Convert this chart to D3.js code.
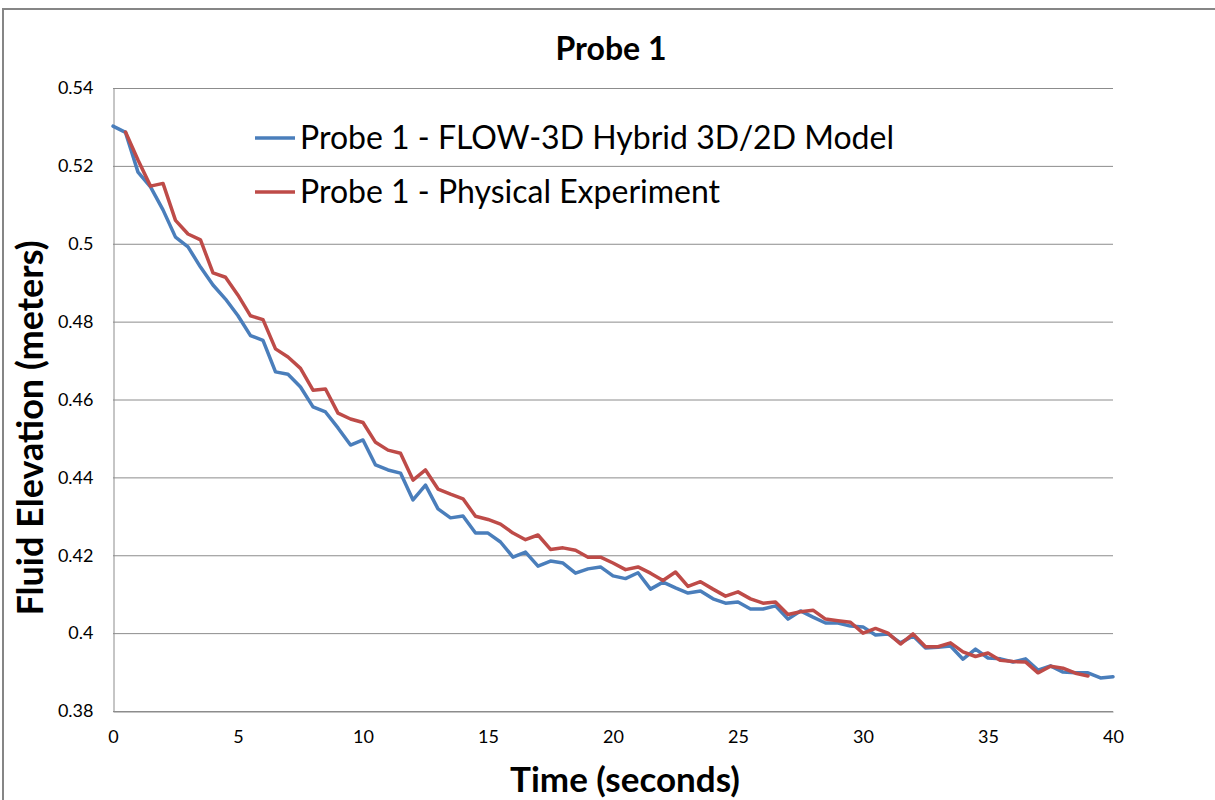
<!DOCTYPE html>
<html>
<head>
<meta charset="utf-8">
<script src="https://cdn.jsdelivr.net/npm/d3@7.9.0/dist/d3.min.js"></script>
<style>
  body { margin: 0; background: #fff; }
  svg { display: block; font-family: Lato, "Open Sans", sans-serif; }
</style>
</head>
<body>
<svg id="chart" width="1215" height="800"></svg>
<script>
// series values (0.5 s steps)
const modelTimes = d3.range(0, 40.001, 0.5);
const modelValues = [
  0.5302, 0.5286, 0.5184, 0.5146, 0.5087, 0.5017, 0.4992, 0.4940, 0.4894, 0.4858,
  0.4815, 0.4764, 0.4752, 0.4671, 0.4665, 0.4632, 0.4581, 0.4568, 0.4527, 0.4483,
  0.4496, 0.4432, 0.4419, 0.4411, 0.4342, 0.4380, 0.4319, 0.4296, 0.4301, 0.4257,
  0.4257, 0.4234, 0.4195, 0.4208, 0.4172, 0.4185, 0.4180, 0.4154, 0.4165, 0.4170,
  0.4147, 0.4140, 0.4155, 0.4113, 0.4131, 0.4116, 0.4103, 0.4108, 0.4088, 0.4077,
  0.4080, 0.4062, 0.4062, 0.4070, 0.4036, 0.4057, 0.4041, 0.4026, 0.4026, 0.4018,
  0.4016, 0.3995, 0.3998, 0.3975, 0.3993, 0.3962, 0.3964, 0.3967, 0.3933, 0.3959,
  0.3936, 0.3934, 0.3926, 0.3934, 0.3905, 0.3916, 0.3900, 0.3898, 0.3898, 0.3885,
  0.3888
];

const expTimes = d3.range(0.5, 39.001, 0.5);
const expValues = [
  0.5287, 0.5215, 0.5148, 0.5155, 0.5060, 0.5025, 0.5010, 0.4925, 0.4914, 0.4868,
  0.4815, 0.4805, 0.4730, 0.4709, 0.4680, 0.4624, 0.4627, 0.4565, 0.4550, 0.4541,
  0.4490, 0.4470, 0.4462, 0.4393, 0.4419, 0.4370, 0.4357, 0.4345, 0.4300, 0.4292,
  0.4280, 0.4257, 0.4240, 0.4252, 0.4215, 0.4219, 0.4213, 0.4195, 0.4195, 0.4180,
  0.4163, 0.4170, 0.4154, 0.4135, 0.4157, 0.4120, 0.4132, 0.4113, 0.4095, 0.4106,
  0.4088, 0.4077, 0.4080, 0.4048, 0.4055, 0.4059, 0.4036, 0.4032, 0.4028, 0.4000,
  0.4012, 0.4000, 0.3972, 0.3998, 0.3965, 0.3965, 0.3975, 0.3952, 0.3940, 0.3949,
  0.3930, 0.3927, 0.3926, 0.3898, 0.3915, 0.3910, 0.3897, 0.3890
];

const xTicks = [0, 5, 10, 15, 20, 25, 30, 35, 40];
const yTicks = [0.38, 0.4, 0.42, 0.44, 0.46, 0.48, 0.5, 0.52, 0.54];

const seriesNames = [
  'Probe 1 - FLOW-3D Hybrid 3D/2D Model',
  'Probe 1 - Physical Experiment'
];
const seriesColors = ['#4a7ebb', '#be4b48'];

const svg = d3.select('#chart');

// outer chart border
svg.append('rect')
  .attr('x', 3).attr('y', 9)
  .attr('width', 1240).attr('height', 820)
  .attr('fill', 'none')
  .attr('stroke', '#868686')
  .attr('stroke-width', 2);

const plot = { left: 113, top: 88, right: 1113, bottom: 711 };

const x = d3.scaleLinear().domain([0, 40]).range([plot.left, plot.right]);
const y = d3.scaleLinear().domain([0.38, 0.54]).range([plot.bottom, plot.top]);

// gridlines
svg.append('g')
  .selectAll('line')
  .data(yTicks)
  .enter()
  .append('line')
  .attr('x1', plot.left).attr('x2', plot.right)
  .attr('y1', d => y(d) + 0.5).attr('y2', d => y(d) + 0.5)
  .attr('stroke', '#8c8c8c')
  .attr('stroke-width', 1);

// y axis
const yAxis = svg.append('g')
  .attr('transform', `translate(${plot.left + 0.5},0)`)
  .call(d3.axisLeft(y).tickValues(yTicks).tickSize(0).tickPadding(20)
    .tickFormat(d => String(+d.toFixed(2))));
yAxis.select('.domain').attr('stroke', '#8c8c8c');
yAxis.selectAll('text')
  .attr('font-family', 'Lato, sans-serif')
  .attr('font-size', 18)
  .attr('fill', '#000');

// x axis
const xAxis = svg.append('g')
  .attr('transform', `translate(0,${plot.bottom + 0.5})`)
  .call(d3.axisBottom(x).tickValues(xTicks).tickSize(0).tickPadding(19));
xAxis.select('.domain').attr('stroke', '#8c8c8c');
xAxis.selectAll('text')
  .attr('font-family', 'Lato, sans-serif')
  .attr('font-size', 18)
  .attr('fill', '#000');

// series lines
const line = d3.line()
  .x(d => x(d[0]))
  .y(d => y(d[1]));

const series = [
  d3.zip(modelTimes, modelValues),
  d3.zip(expTimes, expValues)
];

svg.append('g')
  .selectAll('path')
  .data(series)
  .enter()
  .append('path')
  .attr('d', line)
  .attr('fill', 'none')
  .attr('stroke', (d, i) => seriesColors[i])
  .attr('stroke-width', 3.5)
  .attr('stroke-linejoin', 'round')
  .attr('stroke-linecap', 'round');

// legend
const legend = svg.append('g')
  .selectAll('g')
  .data(seriesNames)
  .enter()
  .append('g')
  .attr('transform', (d, i) => `translate(255,${138 + i * 54})`);

legend.append('line')
  .attr('x1', 0).attr('x2', 40)
  .attr('stroke', (d, i) => seriesColors[i])
  .attr('stroke-width', 3.5);

legend.append('text')
  .attr('x', 45)
  .attr('dy', '0.35em')
  .attr('font-size', 32)
  .attr('fill', '#000')
  .text(d => d);

// title
svg.append('text')
  .attr('x', 611).attr('y', 60)
  .attr('text-anchor', 'middle')
  .attr('font-size', 32)
  .attr('font-weight', 'bold')
  .text('Probe 1');

// axis titles
svg.append('text')
  .attr('x', 625).attr('y', 792)
  .attr('text-anchor', 'middle')
  .attr('font-size', 35)
  .attr('font-weight', 'bold')
  .text('Time (seconds)');

svg.append('text')
  .attr('transform', 'translate(43,428) rotate(-90)')
  .attr('text-anchor', 'middle')
  .attr('font-size', 36)
  .attr('font-weight', 'bold')
  .text('Fluid Elevation (meters)');
</script>
</body>
</html>
